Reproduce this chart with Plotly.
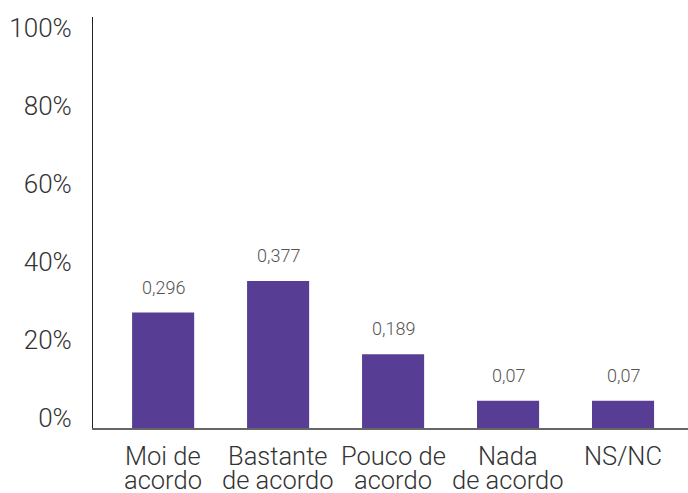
import plotly.graph_objects as go

categories = ["Moi de<br>acordo", "Bastante<br>de acordo", "Pouco de<br>acordo", "Nada<br>de acordo", "NS/NC"]
values = [0.296, 0.377, 0.189, 0.07, 0.07]
y_ticks = [0, 0.2, 0.4, 0.6, 0.8, 1.0]
y_tick_labels = ["0%", "20%", "40%", "60%", "80%", "100%"]

FONT = "Roboto"
BAR_COLOR = "#573E94"

x_idx = list(range(len(categories)))

fig = go.Figure()
fig.add_trace(go.Bar(
    x=x_idx, y=values, marker=dict(color=BAR_COLOR, line=dict(width=0)),
    width=0.54, hoverinfo="skip",
))

annotations = []
for i, v in zip(x_idx, values):
    annotations.append(dict(
        x=i, y=v, xref="x", yref="y", text=str(v).replace(".", ","),
        showarrow=False, yanchor="bottom", yshift=13,
        font=dict(family=FONT, size=18, color="#555555", weight=300),
    ))
for i, cat in zip(x_idx, categories):
    for k, line in enumerate(cat.split("<br>")):
        annotations.append(dict(
            x=i, y=0, xref="x", yref="paper", text=line, showarrow=False,
            yanchor="middle", yshift=-28 - 24 * k,
            font=dict(family=FONT, size=25.5, color="#333333", weight=300),
        ))

fig.update_layout(
    width=688, height=493,
    margin=dict(l=93, r=0, t=17, b=65),
    paper_bgcolor="white", plot_bgcolor="white",
    showlegend=False,
    annotations=annotations,
    xaxis=dict(
        range=[-0.61, 4.565], showticklabels=False, showgrid=False, zeroline=False,
        showline=True, linecolor="#666666", linewidth=2, ticks="",
    ),
    yaxis=dict(
        range=[0, 1.054], tickvals=y_ticks, ticktext=y_tick_labels,
        showgrid=False, zeroline=False, showline=True, linecolor="#222222", linewidth=1,
        ticks="", ticklabelstandoff=15, ticklabelshift=-10,
        tickfont=dict(family=FONT, size=26, color="#333333", weight=300),
    ),
)

fig.write_html(
    "out.html",
    config={"displayModeBar": False},
    post_script="document.body.style.margin='0';document.body.style.overflow='hidden';",
)
